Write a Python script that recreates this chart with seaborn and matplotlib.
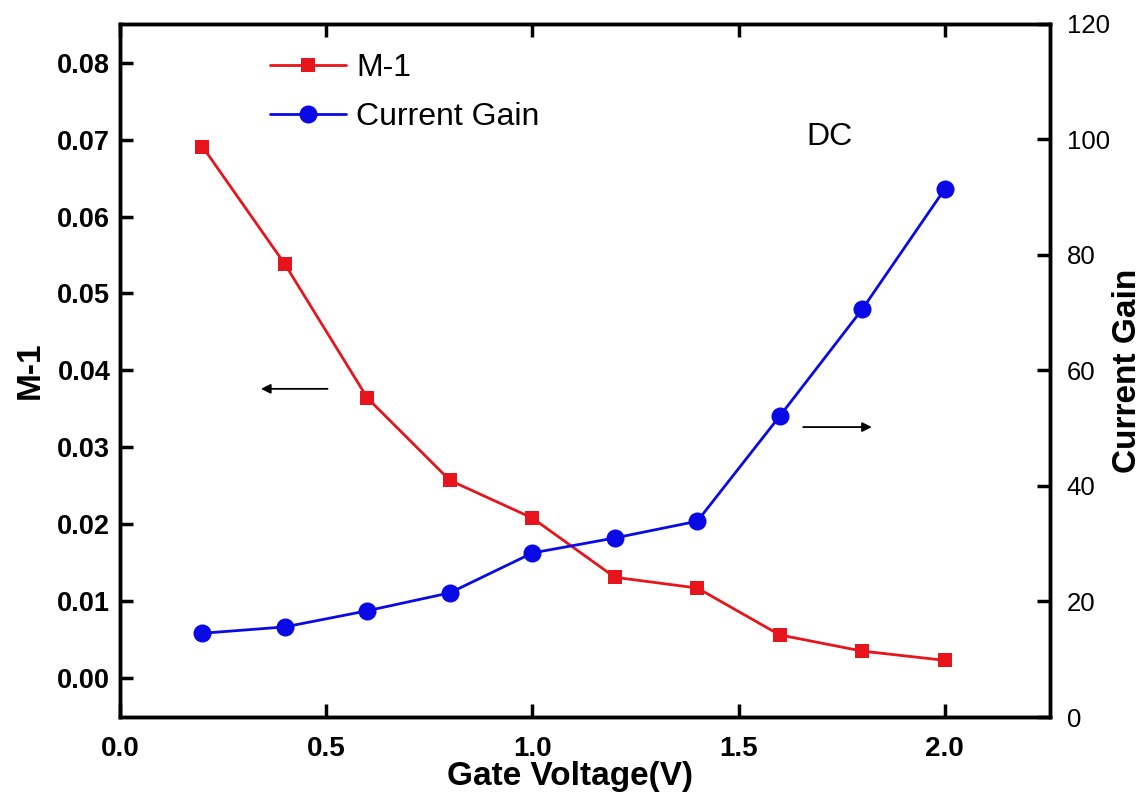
import numpy as np
import pandas as pd
import matplotlib
matplotlib.use("Agg")
import matplotlib.pyplot as plt
import seaborn as sns

gate_voltage = [0.2, 0.4, 0.6, 0.8, 1.0, 1.2, 1.4, 1.6, 1.8, 2.0]
m_minus_1 = [0.0691, 0.0538, 0.0364, 0.0257, 0.0208, 0.0131, 0.0117, 0.0056, 0.0035, 0.0023]
current_gain = [14.5, 15.6, 18.4, 21.5, 28.4, 31.0, 33.9, 52.1, 70.6, 91.4]

x_ticks = [0.0, 0.5, 1.0, 1.5, 2.0]
left_ticks = [0.00, 0.01, 0.02, 0.03, 0.04, 0.05, 0.06, 0.07, 0.08]
right_ticks = [0, 20, 40, 60, 80, 100, 120]

df = pd.DataFrame({"Gate Voltage": gate_voltage, "M-1": m_minus_1, "Current Gain": current_gain})

sns.set_style("ticks")
plt.rcParams["font.family"] = ["Liberation Sans", "DejaVu Sans"]
plt.rcParams["xtick.direction"] = "in"
plt.rcParams["ytick.direction"] = "in"
for key in ("text.color", "axes.labelcolor", "xtick.color", "ytick.color"):
    plt.rcParams[key] = "black"

fig = plt.figure(figsize=(11.43, 7.98), dpi=100)
ax = fig.add_axes([0.105, 0.1015, 0.8135, 0.8685])
ax2 = ax.twinx()

sns.lineplot(data=df, x="Gate Voltage", y="M-1", ax=ax, color="#e8141c", marker="s",
             markersize=10, markeredgewidth=0, linewidth=2, label="M-1", legend=False)
sns.lineplot(data=df, x="Gate Voltage", y="Current Gain", ax=ax2, color="#0a0ae6", marker="o",
             markersize=13, markeredgewidth=0, linewidth=2, label="Current Gain", legend=False)

ax.set_xlim(0, 2.255)
ax.set_ylim(-0.00507, 0.08505)
ax2.set_ylim(0, 120)

ax.set_xticks(x_ticks)
ax.set_xticklabels([f"{v:.1f}" for v in x_ticks], fontweight="bold", fontsize=20)
ax.set_yticks(left_ticks)
ax.set_yticklabels([f"{v:.2f}" for v in left_ticks], fontweight="bold", fontsize=19.5)
ax2.set_yticks(right_ticks)
ax2.set_yticklabels([str(v) for v in right_ticks], fontsize=18.5)

ax.tick_params(axis="both", length=9.5, width=2.5)
ax.tick_params(axis="y", pad=7)
ax.tick_params(axis="x", top=True, pad=14)
ax2.tick_params(axis="y", length=9.5, width=2.5, pad=12)

for a in (ax, ax2):
    for s in a.spines.values():
        s.set_linewidth(2.5)
        s.set_color("black")

ax.set_xlabel("Gate Voltage(V)", fontweight="bold", fontsize=24)
ax.xaxis.set_label_coords(0.484, -0.063)
ax.set_ylabel("M-1", fontweight="bold", fontsize=24, labelpad=8)
ax2.set_ylabel("Current Gain", fontweight="bold", fontsize=24, labelpad=2)

h1, l1 = ax.get_legend_handles_labels()
h2, l2 = ax2.get_legend_handles_labels()
ax.legend(h1 + h2, l1 + l2, loc="upper left", bbox_to_anchor=(0.13, 1.0), frameon=False,
          fontsize=23, handlelength=2.4, handletextpad=0.3, labelspacing=0.62, numpoints=1)

ax.annotate("", xy=(0.335, 0.0376), xytext=(0.51, 0.0376),
            arrowprops=dict(arrowstyle="-|>", color="black", lw=1.3, mutation_scale=14))
ax2.annotate("", xy=(1.83, 50.2), xytext=(1.65, 50.2),
             arrowprops=dict(arrowstyle="-|>", color="black", lw=1.3, mutation_scale=14))
ax2.text(1.72, 100.5, "DC", fontsize=23, ha="center", va="center")

fig.savefig("out.png", dpi=100)
